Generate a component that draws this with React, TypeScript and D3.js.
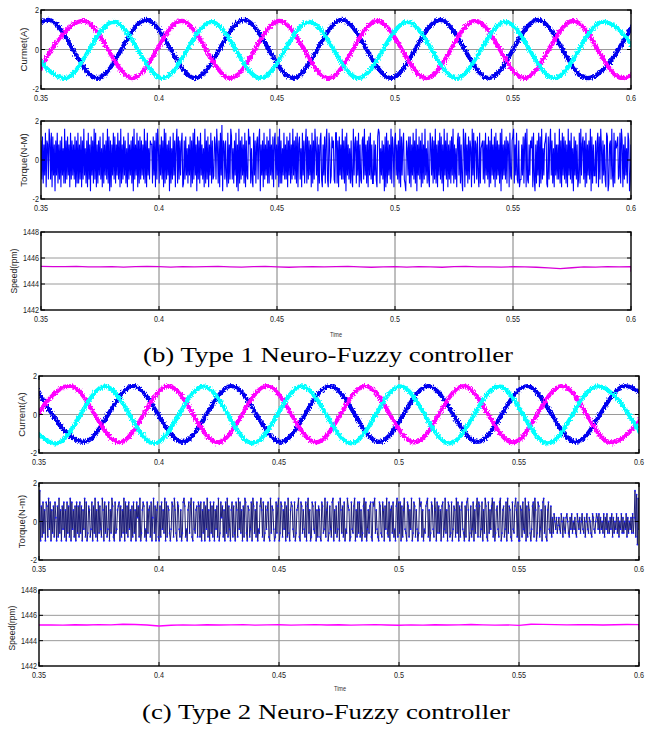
import React from 'react';
import * as d3 from 'd3';

const T_START = 0.35;
const T_END = 0.6;
const X_TICKS = [0.35, 0.4, 0.45, 0.5, 0.55, 0.6];
const X_TICK_LABELS = ['0.35', '0.4', '0.45', '0.5', '0.55', '0.6'];
const CURRENT_TICKS = [-2, 0, 2];
const TORQUE_TICKS = [-2, 0, 2];
const SPEED_TICKS = [1442, 1444, 1446, 1448];

// Phase-current extrema: [time, value]
const B_PHASE_BLUE: [number, number][] = [
  [0.3323, -1.45], [0.353, 1.5], [0.3738, -1.45], [0.3945, 1.5], [0.4153, -1.45], [0.436, 1.5],
  [0.4568, -1.45], [0.4775, 1.5], [0.4983, -1.45], [0.519, 1.5], [0.5398, -1.45], [0.5605, 1.5],
  [0.5813, -1.45], [0.602, 1.5],
];
const B_PHASE_MAGENTA: [number, number][] = [
  [0.3473, -1.45], [0.368, 1.45], [0.3888, -1.45], [0.4095, 1.45], [0.4303, -1.45], [0.451, 1.45],
  [0.4718, -1.45], [0.4925, 1.45], [0.5133, -1.45], [0.534, 1.45], [0.5548, -1.45], [0.5755, 1.45],
  [0.5963, -1.45], [0.617, 1.45],
];
const B_PHASE_CYAN: [number, number][] = [
  [0.3392, 1.4], [0.36, -1.45], [0.3807, 1.4], [0.4015, -1.45], [0.4222, 1.4], [0.443, -1.45],
  [0.4637, 1.4], [0.4845, -1.45], [0.5052, 1.4], [0.526, -1.45], [0.5467, 1.4], [0.5675, -1.45],
  [0.5882, 1.4], [0.609, -1.45],
];
const C_PHASE_BLUE: [number, number][] = [
  [0.3482, 1.48], [0.3687, -1.42], [0.3892, 1.48], [0.4097, -1.42], [0.4302, 1.48], [0.4507, -1.42],
  [0.4712, 1.48], [0.4917, -1.42], [0.5122, 1.48], [0.5327, -1.42], [0.5532, 1.48], [0.5737, -1.42],
  [0.5942, 1.48], [0.6147, -1.42],
];
const C_PHASE_MAGENTA: [number, number][] = [
  [0.3424, -1.45], [0.3629, 1.48], [0.3834, -1.45], [0.4039, 1.48], [0.4244, -1.45], [0.4449, 1.48],
  [0.4654, -1.45], [0.4859, 1.48], [0.5064, -1.45], [0.5269, 1.48], [0.5474, -1.45], [0.5679, 1.48],
  [0.5884, -1.45], [0.6089, 1.48],
];
const C_PHASE_CYAN: [number, number][] = [
  [0.3365, 1.46], [0.357, -1.5], [0.3775, 1.46], [0.398, -1.5], [0.4185, 1.46], [0.439, -1.5],
  [0.4595, 1.46], [0.48, -1.5], [0.5005, 1.46], [0.521, -1.5], [0.5415, 1.46], [0.562, -1.5],
  [0.5825, 1.46], [0.603, -1.5],
];

// Torque samples, one letter per sample: a = -1.8 ... j = 0 ... s = +1.8 (steps of 0.2)
const TORQUE_LEVELS = 'abcdefghijklmnopqrs';
const B_TORQUE = [
  'oepdnfqconeroeqcpfnbofqdneocpfmdrdoepfncqeofnepcod',
  'qdnepcoerfmdocqenbpfodreqcndofpemcqdnfoerdpbocnfqe',
  'pdnfqeocrdnepfodmcqenfodpbrenfqcodpeofnerdocqfmeon',
  'ndpfocqermdnfpeocrdqenfobpdmeqfocnrdpeofnqcdoepfmd',
  'nfpcodqerfnbpeodqfnemcrdoepcnfqdoefpnermdocqfsbone',
  'ofcqdnerpemdofqcnbrdoepfndqcofernpdmecqfodnpeorbnf',
  'ocqenfpdodrfnepcoqenfpcrdodmfqenepcofqdnerfoepdqcn',
  'pemcqfodnrdpeofncqdoermfpbndoqecnfpdorecqndfpmoedq',
  'qdocpfnereodpbqfnemdoecrfnpdofqcnedoperfndocpfqend',
  'dofnecprqdmfoenbpcqdofnerdpmcoqfneodrcpfnqedbomfpd',
  'pcnfqeodrbnfpeocqdnerfmdoecqnfpdoerdncofqepdnbrfoe',
  'qcneodpfrdnemcoqfpdnebrocqfndpeomcrfqdonepfcqdmnoe',
  'odqfnepcodrfnepcqeofndqbrenfoepdoncqfeoprdnfqedoce',
  'enfpdoqcrednfompcqebndofqcpdremfnoqdcpenrfodmcqfne',
  'nerdocqfpeodncrfoeqdmbpfoenceqdrfnpeocqdnfoerbpdnf',
  'fodnqcpermdofnecqpbdnoerfcqdomnpefqdrocnepfmdqoben',
].join('');
const C_TORQUE = [
  'jrenfogmeonfphoemgnfokenfpgmenhofmeognfpeohmfneogn',
  'fognemhpfoegnmfhoengpfmeognhfpmeognfhoemgpnfeoghmn',
  'oenfmgpeognfohmenfogmeoknfpegmonfheogmnfoekpgnemof',
  'enfohmgpeofnmgehonfpmgeonhfmegopnfhemognpfeohgmnfo',
  'nfoemgoenhpfmeognfoemhnfpegoknfmeogpfnhemofngeomfp',
  'hogmenfpogenmfhoepngmfoehgnpmfoegnhmofepgnmhefognp',
  'egonfmhoenfpgemonhfoegmnpfeongmhfoenpgmefonhgoemfn',
  'mfeonghpfmoegnhfopemgnfhoepmgnfoehgpnmefohgnpemfog',
  'ofmegnpfoehmgnofeonpgmhfeongfomenhpgfoemngofhenpfo',
  'goenfmphgeonfmhpegonfmhegpnofmehgnopfmegonhfpmeogn',
  'gmenofhpgmeonfgoehnmfpgoenfmohgenfopmegnfhoemgnpfo',
  'nfhoemgpnfeogmhnpfoegmnhfopegmnfhoepgnmfeohgnpmfoe',
  'enmfohgpenfomgehnofpmegonfhmeopgnfemohgnfkgljhkgi',
  'khgljfkhgkljgfkhlgjhkgfljhkgjlhgkfjlhgkjgflkhgjlkh',
  'lgkhjglfkhlgjgkhlfkgjhlgkfjhlgkgjhlfkgjhkglgkrfqdph',
].join('');

// Rotor speed samples every 0.005 s from 0.35 to 0.6, plus the final drop at 0.6
const B_SPEED = [
  1445.36, 1445.34, 1445.33, 1445.35, 1445.31, 1445.32, 1445.34, 1445.30, 1445.33, 1445.35,
  1445.33, 1445.30, 1445.33, 1445.31, 1445.34, 1445.36, 1445.32, 1445.30, 1445.33, 1445.35,
  1445.31, 1445.29, 1445.32, 1445.34, 1445.31, 1445.33, 1445.35, 1445.31, 1445.29, 1445.32,
  1445.34, 1445.30, 1445.33, 1445.31, 1445.29, 1445.33, 1445.35, 1445.31, 1445.32, 1445.30,
  1445.33, 1445.31, 1445.29, 1445.24, 1445.19, 1445.25, 1445.32, 1445.30, 1445.33, 1445.31,
  1445.34,
];
const B_SPEED_END = 1444.95;
const C_SPEED = [
  1445.24, 1445.25, 1445.23, 1445.26, 1445.24, 1445.27, 1445.25, 1445.30, 1445.28, 1445.24,
  1445.16, 1445.22, 1445.25, 1445.23, 1445.26, 1445.24, 1445.25, 1445.27, 1445.23, 1445.25,
  1445.26, 1445.23, 1445.25, 1445.27, 1445.24, 1445.26, 1445.23, 1445.25, 1445.27, 1445.24,
  1445.22, 1445.25, 1445.23, 1445.26, 1445.24, 1445.25, 1445.28, 1445.25, 1445.23, 1445.25,
  1445.21, 1445.30, 1445.29, 1445.27, 1445.25, 1445.27, 1445.26, 1445.24, 1445.26, 1445.28,
  1445.27,
];
const C_SPEED_END = 1444.85;

const torquePoints = (s: string): [number, number][] => {
  const n = s.length;
  return s.split('').map((c, i) => [
    T_START + (i * (T_END - T_START)) / (n - 1),
    -1.8 + 0.2 * TORQUE_LEVELS.indexOf(c),
  ]);
};
const speedPoints = (vals: number[], end: number): [number, number][] => {
  const pts: [number, number][] = vals.map((v, i) => [T_START + i * 0.005, v]);
  pts.push([T_END, end]);
  return pts;
};

const TICK_FONT = 'Liberation Sans, Arial, sans-serif';
const LABEL_FONT = 'Liberation Sans, Arial, sans-serif';
const SERIF = 'Liberation Serif, Times New Roman, serif';

type Scale = d3.ScaleLinear<number, number>;
interface PanelProps {
  id: string;
  L: number; R: number; T: number; B: number;
  yDomain: [number, number];
  yTicks: number[];
  yLabel: string;
  yLabelX: number;
  yLabelSize?: number;
  children: (x: Scale, y: Scale) => React.ReactNode;
}

function Panel({ id, L, R, T, B, yDomain, yTicks, yLabel, yLabelX, yLabelSize = 9.5, children }: PanelProps) {
  const x = d3.scaleLinear().domain([T_START, T_END]).range([L, R]);
  const y = d3.scaleLinear().domain(yDomain).range([B, T]);
  const cy = (T + B) / 2;
  return (
    <g>
      <defs>
        <clipPath id={id}>
          <rect x={L} y={T} width={R - L} height={B - T} />
        </clipPath>
      </defs>
      <rect x={L} y={T} width={R - L} height={B - T} fill="#fff" />
      {X_TICKS.slice(1, -1).map((t) => (
        <line key={'gx' + t} x1={x(t)} x2={x(t)} y1={T} y2={B} stroke="#707070" strokeWidth={0.9} />
      ))}
      {yTicks.slice(1, -1).map((v) => (
        <line key={'gy' + v} x1={L} x2={R} y1={y(v)} y2={y(v)} stroke="#9a9a9a" strokeWidth={1} />
      ))}
      <g clipPath={`url(#${id})`}>{children(x, y)}</g>
      {X_TICKS.map((t) => (
        <g key={'tx' + t} stroke="#000" strokeWidth={1}>
          <line x1={x(t)} x2={x(t)} y1={B} y2={B - 4} />
          <line x1={x(t)} x2={x(t)} y1={T} y2={T + 4} />
        </g>
      ))}
      {yTicks.map((v) => (
        <g key={'ty' + v} stroke="#000" strokeWidth={1}>
          <line x1={L} x2={L + 4} y1={y(v)} y2={y(v)} />
          <line x1={R} x2={R - 4} y1={y(v)} y2={y(v)} />
        </g>
      ))}
      <rect x={L} y={T} width={R - L} height={B - T} fill="none" stroke="#000" strokeWidth={1.4} />
      {X_TICKS.map((t, i) => (
        <text
          key={'lx' + t}
          transform={`translate(${x(t)},${B + 12}) scale(0.8,1)`}
          textAnchor="middle"
          fontSize={9}
          fontFamily={TICK_FONT}
          fill="#222"
        >
          {X_TICK_LABELS[i]}
        </text>
      ))}
      {yTicks.map((v) => (
        <text
          key={'ly' + v}
          transform={`translate(${L - 2},${y(v) + 3}) scale(0.8,1)`}
          textAnchor="end"
          fontSize={9}
          fontFamily={TICK_FONT}
          fill="#222"
        >
          {v}
        </text>
      ))}
      <text
        transform={`translate(${yLabelX},${cy}) rotate(-90)`}
        textAnchor="middle"
        fontSize={yLabelSize}
        fontFamily={LABEL_FONT}
        fill="#222"
      >
        {yLabel}
      </text>
    </g>
  );
}

const smoothLine = (x: Scale, y: Scale) =>
  d3.line<[number, number]>().x((d) => x(d[0])).y((d) => y(d[1])).curve(d3.curveMonotoneX);
const straightLine = (x: Scale, y: Scale) =>
  d3.line<[number, number]>().x((d) => x(d[0])).y((d) => y(d[1]));

function Currents(x: Scale, y: Scale, phases: [number, number][][]) {
  const colors = ['#0000f0', '#ff00ff', '#00ffff'];
  const gen = smoothLine(x, y);
  return phases.map((p, i) => (
    <path key={i} d={gen(p) || ''} fill="none" stroke={colors[i]} strokeWidth={4.2} filter="url(#fuzz)" />
  ));
}

export default function App() {
  const bTq = torquePoints(B_TORQUE);
  const cTq = torquePoints(C_TORQUE);
  return (
    <svg
      width={654}
      height={730}
      style={{ position: 'absolute', left: 0, top: 0, background: '#fff' }}
      xmlns="http://www.w3.org/2000/svg"
    >
      <defs>
        <filter id="fuzz" x="-0.02" y="-0.25" width="1.04" height="1.5">
          <feTurbulence type="fractalNoise" baseFrequency="0.9 0.5" numOctaves={2} seed={7} result="noise" />
          <feDisplacementMap in="SourceGraphic" in2="noise" scale={5} xChannelSelector="R" yChannelSelector="G" />
        </filter>
      </defs>
      <rect width={654} height={730} fill="#fff" />

      {/* (b) Type 1 */}
      <Panel id="cb1" L={41} R={631} T={10} B={89} yDomain={[-2, 2]} yTicks={CURRENT_TICKS} yLabel="Curmet(A)" yLabelX={27}>
        {(x, y) => Currents(x, y, [B_PHASE_BLUE, B_PHASE_MAGENTA, B_PHASE_CYAN])}
      </Panel>
      <Panel id="cb2" L={41} R={631} T={121} B={199} yDomain={[-2, 2]} yTicks={TORQUE_TICKS} yLabel="Torque(N-M)" yLabelX={27}>
        {(x, y) => <path d={straightLine(x, y)(bTq) || ''} fill="none" stroke="#0000ff" strokeWidth={1.1} />}
      </Panel>
      <Panel id="cb3" L={41} R={631} T={232} B={310} yDomain={[1442, 1448]} yTicks={SPEED_TICKS} yLabel="Speed(rpm)" yLabelX={17} yLabelSize={8.5}>
        {(x, y) => (
          <path d={straightLine(x, y)(speedPoints(B_SPEED, B_SPEED_END)) || ''} fill="none" stroke="#d800d8" strokeWidth={1.3} />
        )}
      </Panel>
      <text transform="translate(336,337) scale(0.85,1)" textAnchor="middle" fontSize={6.5} fontFamily={TICK_FONT} fill="#333">Time</text>
      <text x={143} y={362} fontSize={21} fontFamily={SERIF} fill="#000" textLength={370} lengthAdjust="spacingAndGlyphs">
        (b) Type 1 Neuro-Fuzzy controller
      </text>

      {/* (c) Type 2 */}
      <Panel id="cc1" L={39} R={639} T={376} B={453} yDomain={[-2, 2]} yTicks={CURRENT_TICKS} yLabel="Current(A)" yLabelX={25}>
        {(x, y) => Currents(x, y, [C_PHASE_BLUE, C_PHASE_MAGENTA, C_PHASE_CYAN])}
      </Panel>
      <Panel id="cc2" L={39} R={639} T={483} B={560} yDomain={[-2, 2]} yTicks={TORQUE_TICKS} yLabel="Torque(N-m)" yLabelX={25}>
        {(x, y) => (
          <g>
            <path d={straightLine(x, y)(cTq) || ''} fill="none" stroke="#1e1e78" strokeWidth={1} />
            {cTq.map((d, i) => (
              <circle key={i} cx={x(d[0])} cy={y(d[1])} r={0.9} fill="#1a1aff" />
            ))}
          </g>
        )}
      </Panel>
      <Panel id="cc3" L={39} R={639} T={590} B={666} yDomain={[1442, 1448]} yTicks={SPEED_TICKS} yLabel="Speed(rpm)" yLabelX={15} yLabelSize={8.5}>
        {(x, y) => (
          <path d={straightLine(x, y)(speedPoints(C_SPEED, C_SPEED_END)) || ''} fill="none" stroke="#ff00ff" strokeWidth={1.4} />
        )}
      </Panel>
      <text transform="translate(340,691) scale(0.85,1)" textAnchor="middle" fontSize={6.5} fontFamily={TICK_FONT} fill="#333">Time</text>
      <text x={142} y={719} fontSize={21} fontFamily={SERIF} fill="#000" textLength={368} lengthAdjust="spacingAndGlyphs">
        (c) Type 2 Neuro-Fuzzy controller
      </text>
    </svg>
  );
}
